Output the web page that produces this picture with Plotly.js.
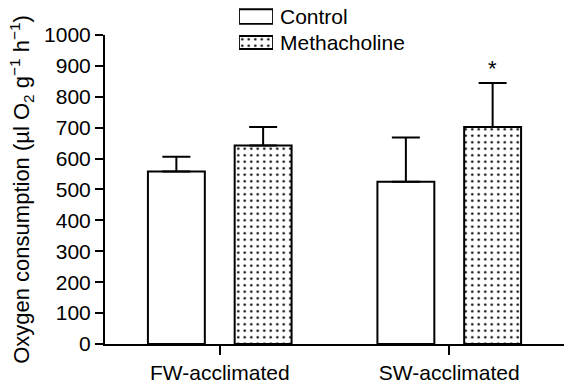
<!DOCTYPE html>
<html>
<head>
<meta charset="utf-8">
<script src="https://cdn.plot.ly/plotly-3.0.1.min.js"></script>
<style>html,body{margin:0;padding:0;background:#fff}#chart{width:564px;height:385px}</style>
</head>
<body>
<div id="chart"></div>
<script>
// Data
const categories = ['FW-acclimated', 'SW-acclimated'];
const seriesNames = ['Control', 'Methacholine'];
const controlMeans = [558, 525];
const controlErr = [48, 143];
const methMeans = [642, 702];
const methErr = [60, 143];
const yTicks = [0, 100, 200, 300, 400, 500, 600, 700, 800, 900, 1000];
const sigLabel = '*';
const sigCategory = 'SW-acclimated';

const FONT = 'Liberation Sans, Arial, Helvetica, sans-serif';
const FS = 21;
const errStyle = {type: 'data', symmetric: false, color: '#000', thickness: 2, width: 14};
const dotPattern = {shape: '.', fgcolor: '#000', bgcolor: '#fff', size: 6.5, solidity: 0.12};

const traces = [
  {
    type: 'bar', name: seriesNames[0], x: categories, y: controlMeans,
    width: 0.248, offset: -0.313,
    marker: {color: '#fff', line: {color: '#000', width: 2}},
    error_y: Object.assign({array: controlErr, arrayminus: controlErr.map(() => 0)}, errStyle),
    showlegend: false, hoverinfo: 'skip'
  },
  {
    type: 'bar', name: seriesNames[1], x: categories, y: methMeans,
    width: 0.248, offset: 0.065,
    marker: {color: '#fff', line: {color: '#000', width: 2}, pattern: dotPattern},
    error_y: Object.assign({array: methErr, arrayminus: methErr.map(() => 0)}, errStyle),
    showlegend: false, hoverinfo: 'skip'
  },
  // legend drawn as a small horizontal bar chart
  {
    type: 'bar', orientation: 'h', xaxis: 'x2', yaxis: 'y2',
    y: [seriesNames[0]], x: [1], width: 0.56,
    marker: {color: '#fff', line: {color: '#000', width: 1.8}},
    showlegend: false, hoverinfo: 'skip'
  },
  {
    type: 'bar', orientation: 'h', xaxis: 'x2', yaxis: 'y2',
    y: [seriesNames[1]], x: [1], width: 0.5,
    marker: {color: '#fff', line: {color: '#000', width: 1.8}, pattern: dotPattern},
    showlegend: false, hoverinfo: 'skip'
  }
];

const sigIdx = categories.indexOf(sigCategory);

const layout = {
  width: 564, height: 385,
  margin: {l: 105, r: 0, t: 0, b: 41},
  paper_bgcolor: '#fff', plot_bgcolor: 'rgba(0,0,0,0)',
  font: {family: FONT, size: FS, color: '#000'},
  showlegend: false,
  xaxis: {
    type: 'category', range: [-0.5, 1.5], domain: [0, 1],
    showline: true, linecolor: '#000', linewidth: 2,
    ticks: 'outside', ticklen: 9, tickwidth: 2, tickcolor: '#000',
    showgrid: false, zeroline: false, fixedrange: true,
    tickfont: {family: FONT, size: FS, color: '#000'}
  },
  yaxis: {
    range: [0, 1000], domain: [0, 0.8983],
    tickvals: yTicks, ticktext: yTicks.map(String),
    showline: true, linecolor: '#000', linewidth: 2,
    ticks: 'outside', ticklen: 8, tickwidth: 2, tickcolor: '#000',
    showgrid: false, zeroline: false, fixedrange: true,
    tickfont: {family: FONT, size: FS, color: '#000'},
    title: {text: '\u00a0\u00a0\u00a0\u00a0Oxygen consumption (µl O<sub>2</sub> g<sup>−1</sup> h<sup>−1</sup>)',
            font: {family: FONT, size: 22, color: '#000'}, standoff: 8}
  },
  xaxis2: {
    anchor: 'y2', domain: [0.292, 0.366], range: [0, 1],
    visible: false, fixedrange: true
  },
  yaxis2: {
    anchor: 'x2', domain: [0.8387, 0.9898], range: [1.5, -0.5],
    type: 'category', categoryorder: 'array', categoryarray: seriesNames,
    side: 'right', showline: false, showgrid: false, zeroline: false,
    ticks: '', ticklabelstandoff: 6, fixedrange: true,
    tickfont: {family: FONT, size: FS, color: '#000'}
  },
  annotations: [{
    x: sigIdx + 0.189, y: methMeans[sigIdx] + methErr[sigIdx],
    xref: 'x', yref: 'y', text: sigLabel, showarrow: false,
    xanchor: 'center', yanchor: 'bottom', yshift: 0,
    font: {family: FONT, size: 22, color: '#000'}
  }]
};

Plotly.newPlot('chart', traces, layout, {displayModeBar: false, staticPlot: true});
</script>
</body>
</html>
